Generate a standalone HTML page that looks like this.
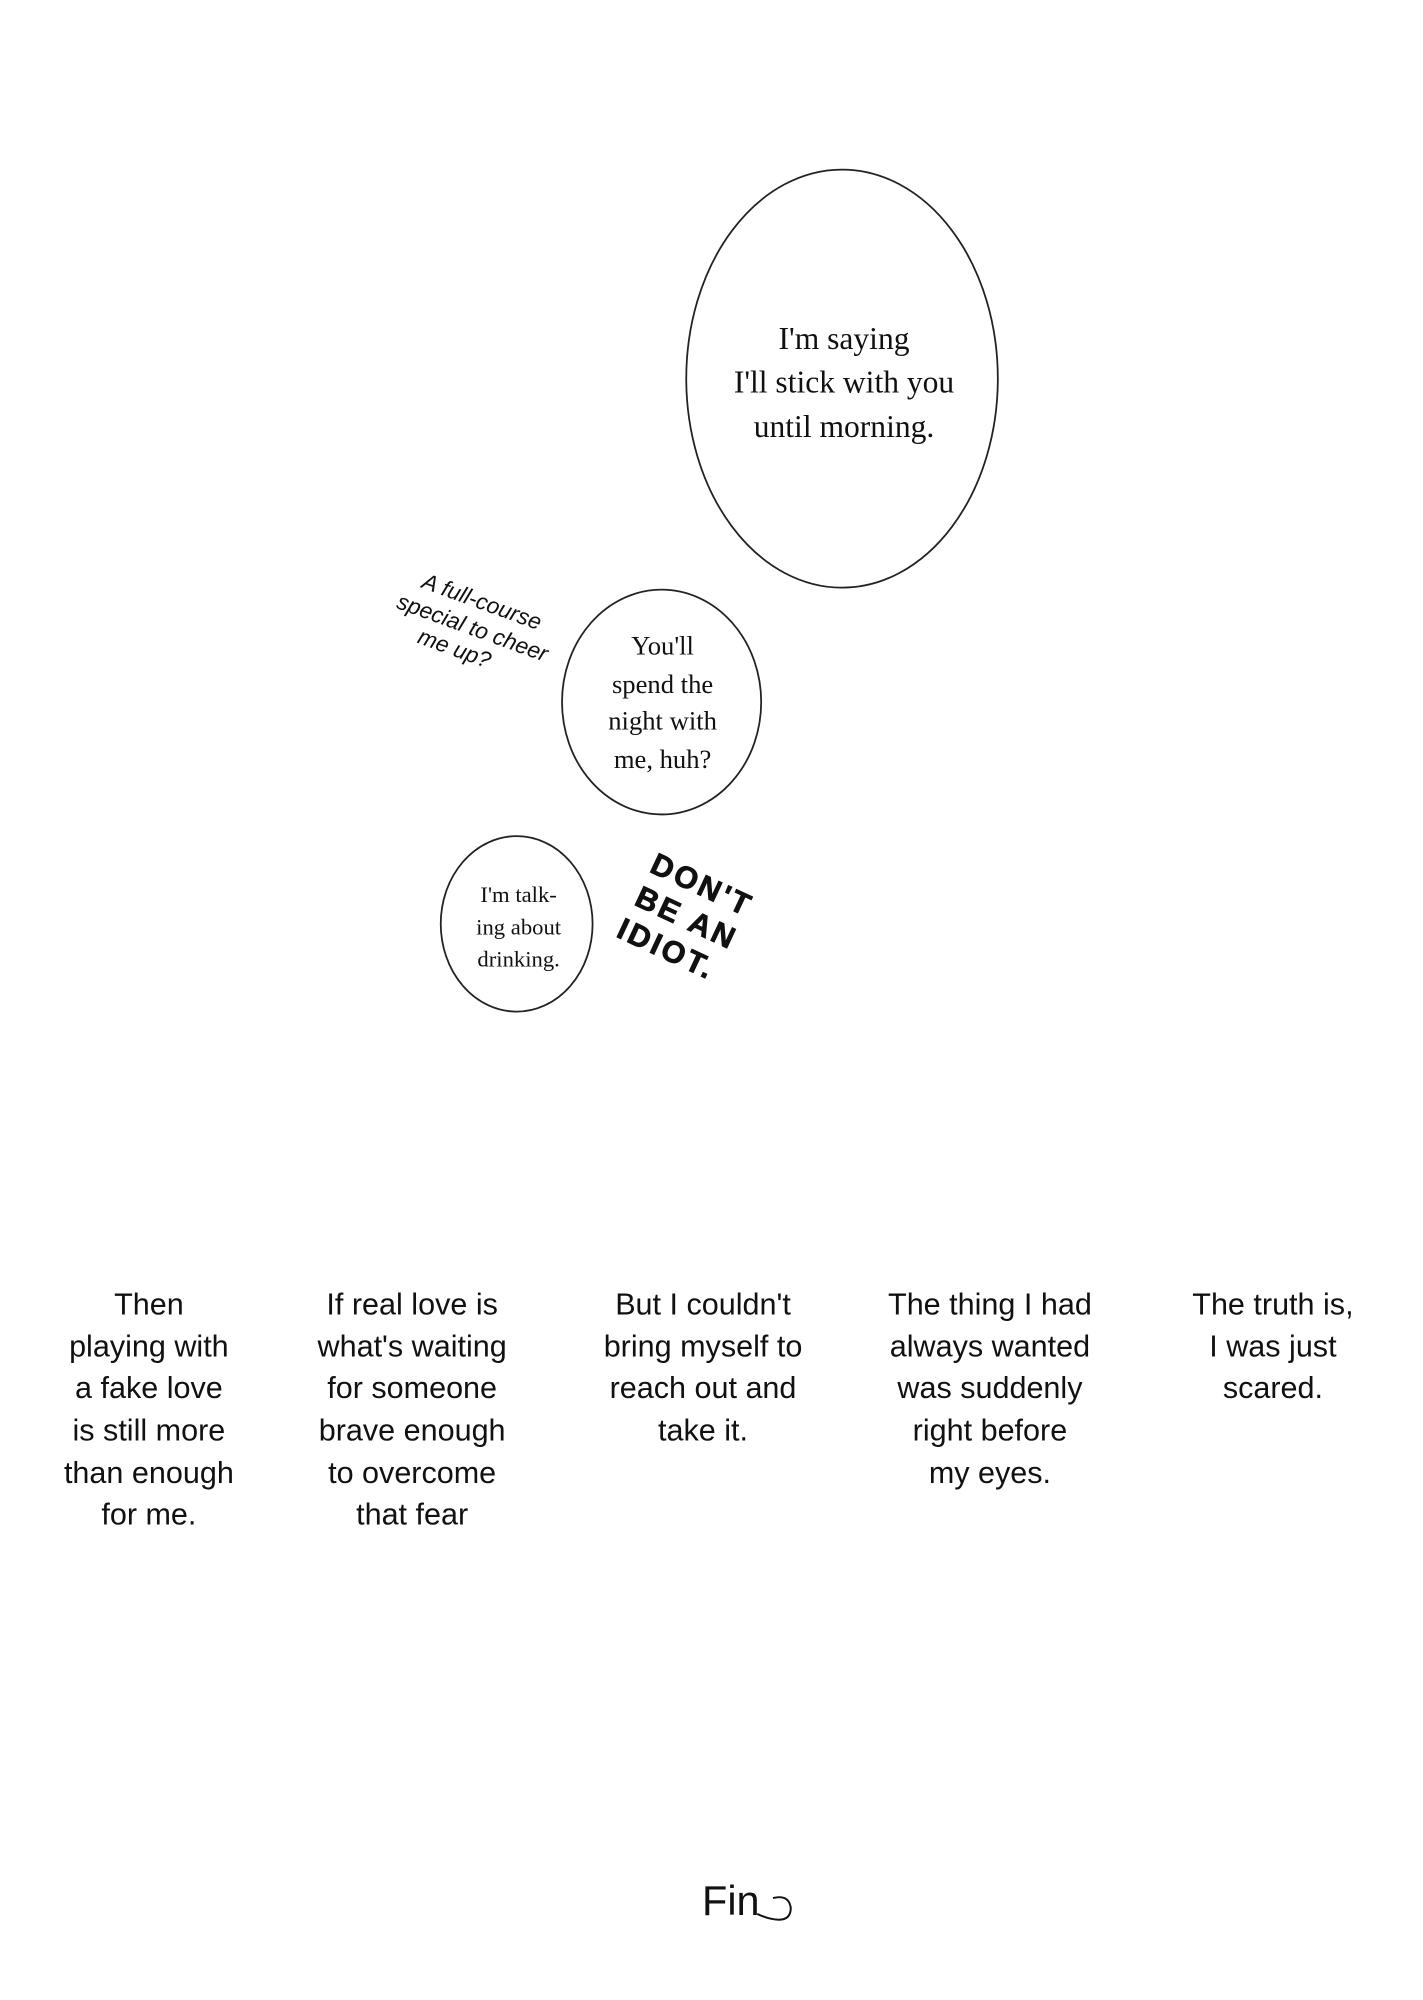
<!DOCTYPE html>
<html><head><meta charset="utf-8"><style>
html,body{margin:0;padding:0;background:#fff;}
svg{display:block;}
.s{font-family:"Liberation Serif",serif;fill:#111;}
.n{font-family:"Liberation Sans Narrow","Liberation Sans",sans-serif;fill:#111;font-size:31px;}
</style></head><body>
<svg width="1423" height="2000" viewBox="0 0 1423 2000" xmlns="http://www.w3.org/2000/svg">
<rect width="1423" height="2000" fill="#fff"/>
<g transform="scale(0.986)">
<ellipse cx="854" cy="384" rx="158" ry="212" fill="none" stroke="#222" stroke-width="1.8"/>
<g class="s" font-size="32" text-anchor="middle">
<text x="856" y="354">I'm saying</text>
<text x="856" y="398">I'll stick with you</text>
<text x="856" y="443">until morning.</text>
</g>
<ellipse cx="671" cy="712" rx="101" ry="114" fill="none" stroke="#222" stroke-width="1.8"/>
<g class="s" font-size="27" text-anchor="middle">
<text x="672" y="664">You'll</text>
<text x="672" y="703">spend the</text>
<text x="672" y="740">night with</text>
<text x="672" y="779">me, huh?</text>
</g>
<ellipse cx="524" cy="937" rx="77" ry="89" fill="none" stroke="#222" stroke-width="1.8"/>
<g class="s" font-size="23" text-anchor="middle">
<text x="526" y="915">I'm talk-</text>
<text x="526" y="948">ing about</text>
<text x="526" y="980">drinking.</text>
</g>
<g transform="translate(478,640) rotate(20)" font-family="Liberation Sans, sans-serif" font-style="italic" font-size="23" fill="#111" text-anchor="middle">
<text x="0" y="-24">A full-course</text>
<text x="0" y="4">special to cheer</text>
<text x="-10" y="30">me up?</text>
</g>
<g transform="translate(694,936) rotate(25)" font-family="Liberation Sans, sans-serif" font-weight="bold" font-size="31" fill="#111" text-anchor="middle" letter-spacing="3" stroke="#111" stroke-width="0.8">
<text x="0" y="-32">DON'T</text>
<text x="0" y="5">BE AN</text>
<text x="-5" y="42">IDIOT.</text>
</g>
<g class="n" text-anchor="middle">
<text x="151" y="1333">Then</text>
<text x="151" y="1376">playing with</text>
<text x="151" y="1418">a fake love</text>
<text x="151" y="1461">is still more</text>
<text x="151" y="1504">than enough</text>
<text x="151" y="1546">for me.</text>

<text x="418" y="1333">If real love is</text>
<text x="418" y="1376">what's waiting</text>
<text x="418" y="1418">for someone</text>
<text x="418" y="1461">brave enough</text>
<text x="418" y="1504">to overcome</text>
<text x="418" y="1546">that fear</text>

<text x="713" y="1333">But I couldn't</text>
<text x="713" y="1376">bring myself to</text>
<text x="713" y="1418">reach out and</text>
<text x="713" y="1461">take it.</text>

<text x="1004" y="1333">The thing I had</text>
<text x="1004" y="1376">always wanted</text>
<text x="1004" y="1418">was suddenly</text>
<text x="1004" y="1461">right before</text>
<text x="1004" y="1504">my eyes.</text>

<text x="1291" y="1333">The truth is,</text>
<text x="1291" y="1376">I was just</text>
<text x="1291" y="1418">scared.</text>
</g>
<text x="712" y="1942" font-family="Liberation Sans Narrow, Liberation Sans, sans-serif" font-size="42" fill="#111">Fin</text>
<path d="M784 1925 q16 -4 18 10 q0 12 -12 12 q-10 0 -22 -6" fill="none" stroke="#111" stroke-width="2"/>
</g>
</svg>
</body></html>
